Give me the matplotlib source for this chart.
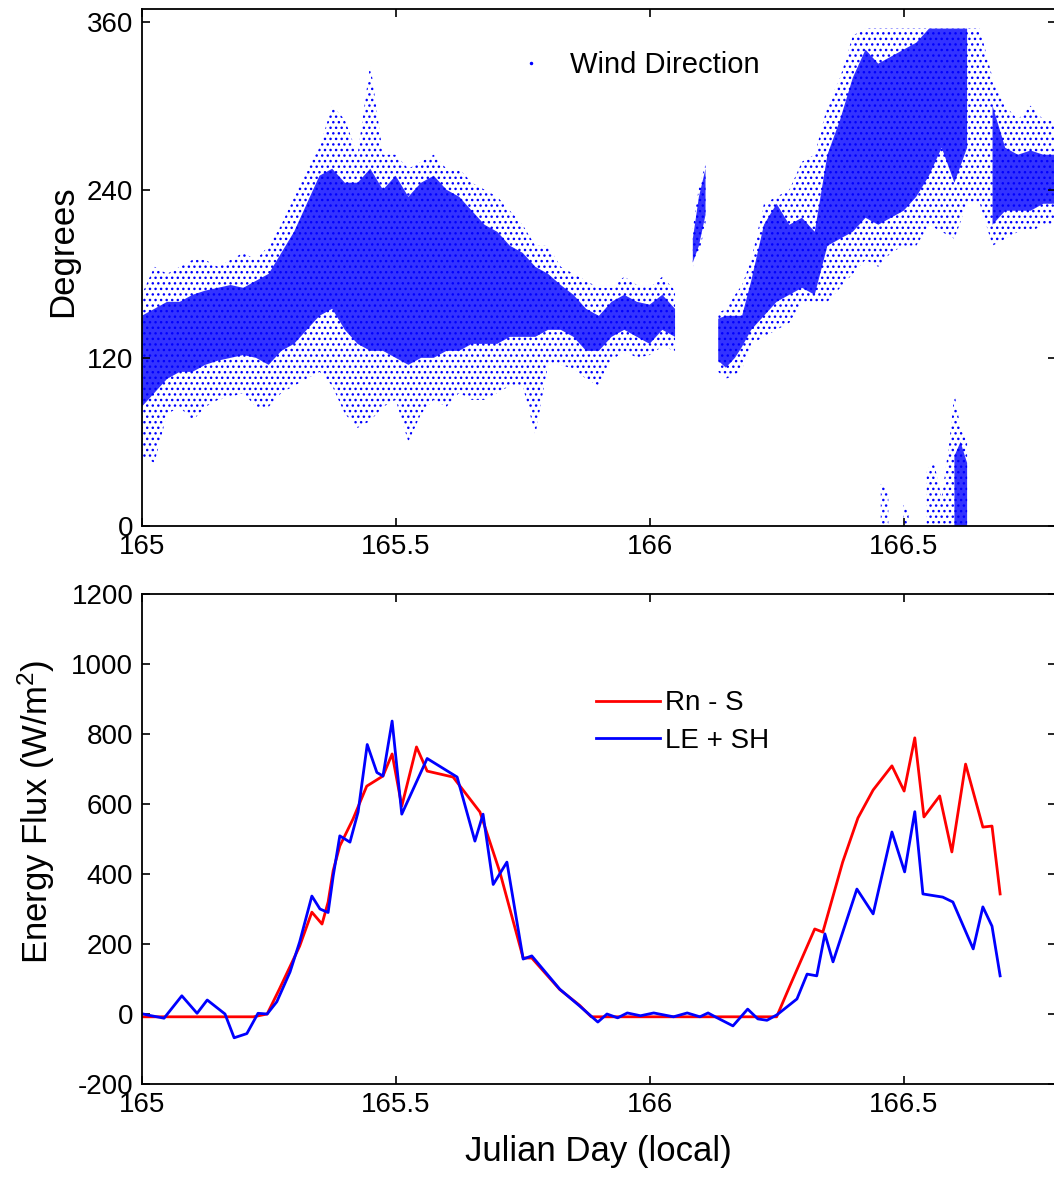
import numpy as np
import matplotlib
matplotlib.use('Agg')
import matplotlib.pyplot as plt
from matplotlib.lines import Line2D

plt.rcParams['font.family'] = ['Liberation Sans', 'DejaVu Sans']
plt.rcParams['mathtext.default'] = 'regular'
plt.rcParams['axes.unicode_minus'] = False
plt.rcParams['hatch.color'] = 'blue'
plt.rcParams['hatch.linewidth'] = 1.0

nan = np.nan

# wind direction: envelope of the point cloud
# (about every 0.025 day, nan = no points)
wd_day = [165.000, 165.025, 165.050, 165.075, 165.100, 165.125, 165.150, 165.175,
          165.200, 165.225, 165.250, 165.275, 165.300, 165.325, 165.350, 165.375,
          165.400, 165.425, 165.450, 165.475, 165.500, 165.525, 165.550, 165.575,
          165.600, 165.625, 165.650, 165.675, 165.700, 165.725, 165.750, 165.775,
          165.800, 165.825, 165.850, 165.875, 165.900, 165.925, 165.950, 165.975,
          166.000, 166.025, 166.050,
          166.065, 166.085, 166.097, 166.110, 166.122, 166.135, 166.150, 166.168,
          166.182, 166.200,
          166.225, 166.250, 166.275, 166.300, 166.325, 166.350, 166.375, 166.400,
          166.425, 166.450, 166.475, 166.500, 166.525, 166.550, 166.575, 166.600,
          166.625, 166.650, 166.675, 166.700, 166.725, 166.750, 166.775, 166.800]
# dense part
wd_core_lo = [85, 95, 105, 110, 110, 115, 118, 120, 122, 120, 115, 125, 130, 140, 150, 155,
              140, 130, 125, 125, 120, 115, 120, 120, 125, 125, 130, 130, 130, 135, 135, 135,
              140, 140, 135, 125, 125, 135, 140, 135, 130, 140, 135,
              nan, 188, 200, 222, nan, 118, 113, 120, 128, 140,
              150, 160, 165, 170, 165, 200, 205, 210, 220, 215, 220, 225, 235, 250, 270, 245,
              270, nan, 215, 225, 225, 225, 230, 230]
wd_core_hi = [150, 155, 160, 160, 165, 168, 170, 172, 170, 175, 180, 195, 210, 230, 250, 255,
              245, 245, 255, 240, 250, 235, 245, 250, 240, 235, 225, 215, 210, 200, 195, 185,
              180, 172, 165, 155, 150, 160, 165, 160, 158, 165, 155,
              nan, 205, 235, 255, nan, 148, 150, 150, 150, 175,
              215, 230, 215, 220, 210, 265, 290, 320, 340, 330, 335, 340, 345, 355, 355, 355,
              355, nan, 300, 270, 265, 268, 265, 265]
# scattered points around it
wd_out_lo = [50, 45, 80, 85, 75, 85, 90, 92, 95, 85, 85, 95, 100, 105, 110, 100,
             80, 70, 75, 85, 90, 60, 80, 90, 85, 95, 90, 90, 95, 100, 100, 65,
             115, 115, 112, 105, 100, 118, 125, 120, 122, 128, 125,
             nan, 185, 195, 215, nan, 110, 105, 108, 112, 130,
             135, 140, 145, 160, 160, 160, 170, 180, 190, 185, 195, 200, 200, 215, 210, 205,
             230, 230, 200, 205, 210, 210, 215, 215]
wd_out_hi = [165, 185, 180, 185, 190, 190, 185, 190, 195, 190, 200, 215, 235, 255, 270, 300,
             290, 265, 330, 265, 265, 255, 260, 265, 255, 255, 245, 240, 235, 225, 215, 200,
             200, 185, 180, 175, 170, 170, 178, 172, 170, 178, 168,
             nan, 212, 242, 258, nan, 152, 155, 165, 172, 190,
             230, 235, 240, 260, 265, 300, 320, 350, 355, 355, 355, 355, 355, 355, 355, 355,
             355, 355, 320, 300, 290, 300, 290, 290]
# points wrapped round to just above 0 degrees
wd_low_day = [166.455, 166.470, 166.480, 166.500, 166.510, 166.520, 166.545, 166.560,
              166.575, 166.590, 166.600, 166.612, 166.625, 166.632]
wd_low_core_hi = [nan, nan, nan, nan, nan, nan, nan, nan, nan, nan, 50, 60, 45, nan]
wd_low_out_hi = [30, 25, nan, 15, 12, nan, 40, 45, 20, 60, 95, 70, 60, nan]

# energy balance
le_sh_day = [165.003, 165.012, 165.044, 165.079, 165.109, 165.129, 165.164, 165.182,
             165.207, 165.229, 165.247, 165.266, 165.292, 165.311, 165.335, 165.351,
             165.367, 165.377, 165.390, 165.410, 165.426, 165.444, 165.463, 165.475,
             165.493, 165.512, 165.562, 165.621, 165.656, 165.672, 165.692, 165.719,
             165.751, 165.768, 165.823, 165.862, 165.898, 165.916, 165.937, 165.956,
             165.982, 166.008, 166.047, 166.074, 166.099, 166.115, 166.133, 166.164,
             166.193, 166.213, 166.231, 166.251, 166.290, 166.310, 166.329, 166.345,
             166.361, 166.408, 166.440, 166.477, 166.502, 166.522, 166.538, 166.577,
             166.597, 166.637, 166.656, 166.674, 166.690]
le_sh = [0, -3, -12, 52, 2, 40, 0, -68,
         -56, 2, 0, 35, 120, 206, 337, 300,
         290, 394, 509, 491, 577, 770, 690, 680,
         837, 571, 730, 677, 494, 571, 370, 434,
         157, 166, 71, 23, -23, 0, -11, 3,
         -5, 3, -8, 3, -8, 3, -11, -34,
         14, -14, -18, -2, 43, 114, 109, 229,
         149, 357, 286, 520, 406, 578, 343, 334,
         320, 186, 306, 251, 109]

rn_s_day = [165.000, 165.220, 165.247, 165.271, 165.311, 165.335, 165.355, 165.367,
            165.377, 165.390, 165.416, 165.443, 165.475, 165.493, 165.512, 165.541,
            165.562, 165.613, 165.666, 165.705, 165.751, 165.768, 165.823, 165.862,
            165.885, 166.250, 166.276, 166.325, 166.341, 166.380, 166.410, 166.440,
            166.477, 166.501, 166.522, 166.540, 166.571, 166.595, 166.622, 166.656,
            166.674, 166.690]
rn_s = [-8, -8, 0, 71, 194, 291, 257, 320,
        410, 480, 557, 651, 680, 743, 594, 763,
        694, 677, 577, 406, 160, 160, 70, 25,
        -8, -8, 80, 243, 234, 434, 560, 640,
        709, 637, 789, 563, 623, 463, 714, 534,
        537, 343]

W, H = 1054, 1177
fig = plt.figure(figsize=(W / 100, H / 100), dpi=100)

def px_axes(left, top, right, bottom):
    return fig.add_axes([left / W, 1 - bottom / H, (right - left) / W, (bottom - top) / H])

ax1 = px_axes(141.7, 9, 1056, 526)
ax2 = px_axes(141.7, 594, 1056, 1084)

# top: wind direction cloud
ax1.fill_between(wd_day, wd_out_lo, wd_out_hi, facecolor='none',
                 edgecolor='blue', hatch='...', linewidth=0)
ax1.fill_between(wd_day, wd_core_lo, wd_core_hi, facecolor='blue',
                 alpha=0.8, linewidth=0)
ax1.fill_between(wd_low_day, 0, wd_low_out_hi, facecolor='none',
                 edgecolor='blue', hatch='...', linewidth=0)
ax1.fill_between(wd_low_day, 0, wd_low_core_hi, facecolor='blue',
                 alpha=0.8, linewidth=0)
ax1.set_ylim(0, 369)
ax1.set_yticks([0, 120, 240, 360])
ax1.set_ylabel('Degrees', fontsize=25)
ax1.yaxis.set_label_coords(-0.068, 0.532)
proxy = Line2D([], [], ls='none', marker='.', color='blue', markersize=3)
ax1.legend([proxy], ['Wind Direction'], loc='center left', frameon=False,
           bbox_to_anchor=(499 / W, 1 - 65 / H), bbox_transform=fig.transFigure,
           fontsize=21, handlelength=1.2, handletextpad=0.75, borderpad=0)

# bottom: energy fluxes
ax2.plot(rn_s_day, rn_s, color='red', lw=2, label='Rn - S')
ax2.plot(le_sh_day, le_sh, color='blue', lw=2, label='LE + SH')
ax2.set_ylim(-200, 1200)
ax2.set_yticks(range(-200, 1201, 200))
ax2.set_ylabel('Energy Flux (W/m$^2$)', fontsize=25)
ax2.yaxis.set_label_coords(-0.093, 0.555)
ax2.set_xlabel('Julian Day (local)', fontsize=25, labelpad=12)
ax2.legend(loc='center left', frameon=False,
           bbox_to_anchor=(582 / W, 1 - 722 / H), bbox_transform=fig.transFigure,
           fontsize=20, handlelength=2.3, handletextpad=0.2, labelspacing=0.4,
           borderpad=0)

for ax in (ax1, ax2):
    ax.set_xlim(165, 166.8)
    ax.set_xticks([165, 165.5, 166, 166.5])
    ax.set_xticklabels(['165', '165.5', '166', '166.5'])
    ax.tick_params(direction='in', length=6, width=1.2, top=True, right=True,
                   labelsize=20, pad=6)
    for s in ax.spines.values():
        s.set_linewidth(1.3)

fig.savefig('out.png', dpi=100)
